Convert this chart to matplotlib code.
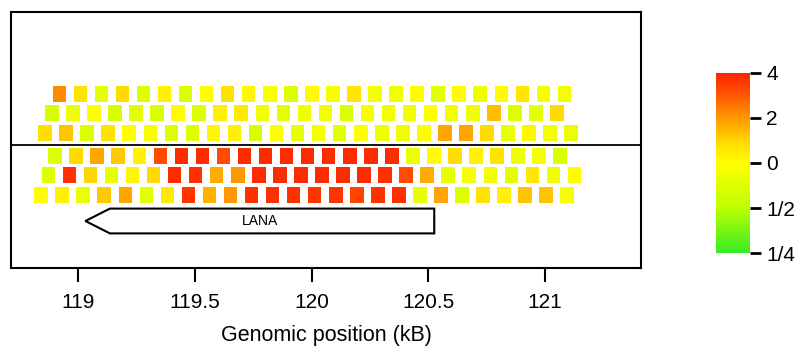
import numpy as np
import matplotlib
matplotlib.use("Agg")
import matplotlib.pyplot as plt
from matplotlib.colors import LinearSegmentedColormap, Normalize
from matplotlib.patches import Polygon

plt.rcParams['font.family'] = ['Liberation Sans', 'DejaVu Sans']

# ---- data (log2 enrichment per tile, 3 rows above line, 3 below) ----
probe_step = 0.0902  # kB between tiles in a row
row_starts = [118.918, 118.886, 118.857, 118.900, 118.871, 118.840]
row_y = [2.55, 1.6, 0.6, -0.55, -1.5, -2.5]

row1 = [1.1, 0.35, -0.4, 0.45, -0.5, 0.2, -0.5, 0.05, 0.35, 0.1, -0.1, -0.5, 0.05,
        -0.15, 0.3, -0.15, -0.2, 0.05, -0.4, 0.05, -0.2, 0.05, 0.3, -0.15, -0.2]
row2 = [-0.6, -0.3, 0.0, -0.6, -0.45, -0.55, 0.05, -0.5, 0.2, 0.25, -0.2, -0.45, -0.2,
        -0.2, -0.55, -0.15, -0.2, -0.25, 0.0, -0.2, -0.25, 0.7, -0.5, -0.4, 0.45]
row3 = [0.4, 0.65, -0.5, 0.35, 0.0, -0.15, -0.5, -0.5, 0.1, 0.2, -0.6, -0.05, -0.35,
        -0.15, -0.4, 0.0, -0.25, -0.25, 0.05, 0.9, 0.9, 0.45, -0.3, 0.1, -0.2, -0.3]
row4 = [-0.5, 0.45, 0.9, 0.6, 0.15, 1.6, 1.95, 1.95, 1.6, 1.95, 1.95, 1.95, 1.95,
        1.95, 1.95, 1.95, 1.95, -0.3, 0.05, 0.4, 0.15, 0.35, -0.25, -0.15, -0.55]
row5 = [-0.5, 1.9, 0.5, -0.4, 0.1, 0.45, 1.95, 1.9, 0.85, 1.0, 1.95, 1.95, 1.95,
        1.95, 1.95, 1.95, 1.9, 1.6, 0.85, -0.4, -0.15, -0.2, -0.45, 0.3, -0.25, 0.05]
row6 = [0.05, 0.2, -0.3, 0.6, 0.9, -0.45, 0.25, 1.85, 0.8, 1.0, 1.9, 1.9, 1.9,
        1.85, 1.85, 1.7, 1.9, 1.9, -0.35, 0.9, -0.5, 0.35, 0.2, 0.65, 0.65, -0.15]
rows = [row1, row2, row3, row4, row5, row6]

gene_name = "LANA"
gene_start = 119.03   # arrow tip (reverse strand)
gene_end = 120.525
gene_y = -3.8

xticks = [119, 119.5, 120, 120.5, 121]
xticklabels = ["119", "119.5", "120", "120.5", "121"]
cbar_ticks = [2, 1, 0, -1, -2]
cbar_labels = ["4", "2", "0", "1/2", "1/4"]

# ---- figure ----
fig = plt.figure(figsize=(8.08, 3.49), dpi=100)
ax = fig.add_axes([0.0136, 0.232, 0.7797, 0.734])

cmap = LinearSegmentedColormap.from_list(
    "gyr", [(0.0, (0.22, 0.92, 0.15)), (0.25, (0.74, 1.0, 0.0)),
            (0.5, (1.0, 1.0, 0.0)), (0.62, (1.0, 0.85, 0.0)),
            (0.75, (1.0, 0.6, 0.0)), (0.9, (1.0, 0.3, 0.0)),
            (1.0, (1.0, 0.15, 0.0))])
norm = Normalize(vmin=-2, vmax=2)

tile_w = 0.058
tile_h = 0.78
for start, y, vals in zip(row_starts, row_y, rows):
    vals = np.asarray(vals)
    xs = start + probe_step * np.arange(len(vals))
    ax.bar(xs, tile_h, width=tile_w, bottom=y - tile_h / 2,
           color=cmap(norm(vals)), edgecolor='none', zorder=2)

ax.axhline(0, color='black', lw=1.3, zorder=3)

head = 0.105
hh = 0.62
poly = Polygon([[gene_start, gene_y], [gene_start + head, gene_y + hh],
                [gene_end, gene_y + hh], [gene_end, gene_y - hh],
                [gene_start + head, gene_y - hh]],
               closed=True, facecolor='white', edgecolor='black', lw=1.5, zorder=3)
ax.add_patch(poly)
ax.text((gene_start + gene_end) / 2, gene_y, gene_name, ha='center', va='center',
        fontsize=10, zorder=4)

ax.set_xlim(118.711, 121.411)
ax.set_ylim(-6.15, 6.65)
ax.set_yticks([])
ax.set_xticks(xticks)
ax.set_xticklabels(xticklabels, fontsize=15)
ax.tick_params(axis='x', direction='out', length=10, width=1.5, pad=8)
for s in ax.spines.values():
    s.set_linewidth(1.5)
ax.set_xlabel("Genomic position (kB)", fontsize=15.5, labelpad=9)

# colorbar
cax = fig.add_axes([0.886, 0.275, 0.042, 0.516])
sm = matplotlib.cm.ScalarMappable(norm=norm, cmap=cmap)
cb = fig.colorbar(sm, cax=cax)
cb.outline.set_visible(False)
cb.set_ticks(cbar_ticks)
cb.set_ticklabels(cbar_labels)
cax.tick_params(direction='out', length=8, width=2, labelsize=15, pad=4)

fig.savefig("out.png", dpi=100)
